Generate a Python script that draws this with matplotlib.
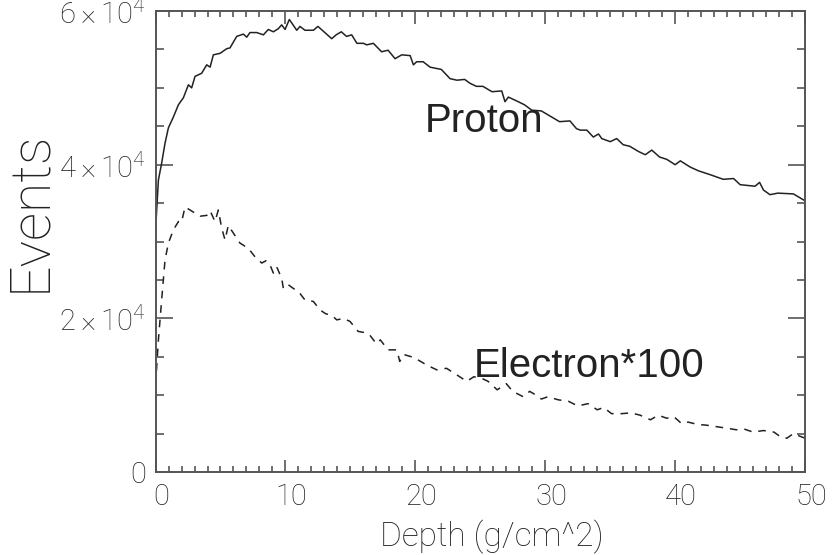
import numpy as np
import matplotlib
matplotlib.use("Agg")
import matplotlib.pyplot as plt
import matplotlib.transforms as mtransforms
from matplotlib.ticker import MultipleLocator, FixedLocator, FuncFormatter

# proton depth profile
proton_depth = [0.0, 0.22, 0.47, 0.73, 0.99, 1.37, 1.76, 2.14, 2.53, 2.78, 3.04, 3.55, 3.94,
                4.2, 4.45, 4.97, 5.48, 5.73, 6.25, 6.76, 7.02, 7.27, 7.79, 8.3, 8.68, 9.07,
                9.45, 9.71, 9.97, 10.3, 10.87, 11.12, 11.5, 12.15, 12.5, 12.9, 13.56, 13.9,
                14.3, 14.7, 15.1, 15.5, 16.0, 16.26, 16.77, 17.4, 17.9, 18.44, 18.95, 19.6,
                19.85, 20.1, 20.6, 21.13, 22.0, 22.67, 23.2, 23.8, 24.2, 24.7, 25.2, 25.9,
                26.65, 26.9, 27.16, 27.8, 28.4, 28.96, 29.7, 30.4, 31.1, 31.9, 32.4, 32.7,
                33.2, 33.7, 34.1, 34.35, 35.0, 35.5, 36.0, 36.5, 37.2, 37.7, 38.2, 38.8,
                39.35, 40.0, 40.4, 41.15, 41.8, 42.7, 43.2, 43.7, 44.5, 45.0, 46.15, 46.5,
                46.8, 47.3, 47.9, 49.1, 50.0]
proton_events = [31500, 38000, 40200, 42800, 44800, 46200, 47800, 48700, 50400, 50000, 51500,
                 51900, 53000, 52700, 54300, 54500, 55100, 55200, 56700, 57000, 56600, 57200,
                 57200, 56900, 57600, 57300, 57700, 58200, 57600, 58900, 57500, 58000, 57500,
                 57500, 58000, 57400, 56400, 56900, 57300, 56700, 56900, 55800, 55800, 55600,
                 55800, 54700, 54900, 53800, 54300, 54200, 53000, 53400, 53400, 52700, 52400,
                 51200, 51000, 51100, 50600, 50200, 50200, 49500, 49600, 48200, 48800, 48300,
                 47800, 47100, 47000, 46300, 45600, 45700, 44700, 44500, 44500, 43600, 44000,
                 43400, 43000, 43400, 42600, 42400, 41700, 41300, 41900, 41000, 40700, 40000,
                 40500, 39700, 39200, 38700, 38400, 38100, 38200, 37400, 37200, 37700, 36700,
                 36100, 36300, 36200, 35300]

# electron depth profile (scaled by 100)
electron_depth = [0.0, 0.22, 0.47, 0.73, 0.99, 1.37, 1.76, 2.0, 2.27, 2.66, 3.04, 3.43, 3.94,
                  4.2, 4.58, 4.83, 5.1, 5.35, 5.6, 5.99, 6.5, 7.15, 7.66, 8.18, 8.5, 8.8,
                  9.07, 9.33, 9.71, 9.84, 10.2, 10.6, 11.0, 11.5, 12.15, 12.66, 13.1, 13.56,
                  13.95, 14.46, 14.97, 15.6, 16.26, 16.5, 17.0, 17.3, 17.9, 18.57, 18.8, 19.1,
                  19.7, 20.2, 20.9, 21.65, 22.4, 23.05, 23.96, 24.5, 25.1, 25.6, 26.3, 27.0,
                  27.5, 28.3, 28.8, 29.3, 29.7, 30.2, 31.0, 31.8, 32.5, 33.3, 34.0, 34.5,
                  35.1, 35.9, 36.6, 37.3, 38.1, 38.7, 39.35, 39.9, 40.5, 41.0, 41.7, 42.4,
                  43.2, 44.0, 44.7, 45.3, 46.0, 46.8, 47.6, 48.1, 48.6, 49.1, 49.7, 50.0]
electron_events = [11300, 17200, 22400, 27600, 29800, 31500, 32600, 32500, 34500, 34100, 33700,
                   33300, 33400, 34000, 32600, 34100, 31700, 30200, 32100, 31100, 29800, 29100,
                   28000, 27200, 27500, 27000, 25900, 26700, 25200, 23900, 24400, 23900, 23500,
                   22400, 22200, 21100, 20600, 20400, 19800, 20000, 19600, 18300, 18100, 17800,
                   16700, 17200, 15900, 15900, 14400, 15300, 15000, 14600, 13900, 13300, 13500,
                   12800, 11800, 12400, 12200, 11800, 10700, 11500, 10500, 9800, 10500, 10000,
                   9500, 9800, 9400, 9200, 8600, 8900, 8100, 8400, 7600, 7600, 7700, 7400, 6800,
                   7400, 7000, 7200, 6300, 6500, 6200, 6100, 5900, 5700, 5500, 5600, 5200, 5400,
                   5200, 4600, 4400, 5000, 4600, 4400]

thin = ["Roboto", "DejaVu Sans"]
ink = "#222222"
plt.rcParams["mathtext.fontset"] = "custom"
plt.rcParams["mathtext.rm"] = "Roboto:light"
plt.rcParams["mathtext.it"] = "Roboto:light"

fig = plt.figure(figsize=(8.34, 5.55), dpi=100)
ax = fig.add_axes([0.1865, 0.1495, 0.7788, 0.8306])

ax.plot(proton_depth, proton_events, color="#222222", lw=1.1)
ax.plot(electron_depth, electron_events, color="#222222", lw=1.1, linestyle=(0, (5, 4.5)))

ax.set_xlim(0, 50)
ax.set_ylim(0, 60000)

for s in ax.spines.values():
    s.set_color("#555555")
    s.set_linewidth(1.4)

ax.xaxis.set_major_locator(MultipleLocator(10))
ax.xaxis.set_minor_locator(MultipleLocator(1))
ax.yaxis.set_major_locator(FixedLocator([0, 20000, 40000, 60000]))
ax.yaxis.set_minor_locator(MultipleLocator(5000))

ax.tick_params(which="both", direction="in", top=True, right=True, color="#555555",
               width=1.2, labelcolor=ink)
ax.tick_params(axis="x", which="major", length=9, pad=8)
ax.tick_params(axis="x", which="minor", length=4)
ax.tick_params(axis="y", which="major", length=12, pad=7)
ax.tick_params(axis="y", which="minor", length=6)


def ylab(v, pos):
    if v == 0:
        return "0"
    return r"$%d\times10^{4}$" % round(v / 10000)


ax.yaxis.set_major_formatter(FuncFormatter(ylab))
ax.xaxis.set_major_formatter(FuncFormatter(lambda v, p: "%d" % v))

for lab in ax.get_xticklabels():
    lab.set_fontfamily(thin)
    lab.set_fontweight("light")
    lab.set_fontsize(21)
    lab.set_transform(lab.get_transform() + mtransforms.ScaledTranslation(6 / 100, 0, fig.dpi_scale_trans))
for lab in ax.get_yticklabels():
    lab.set_fontfamily(thin)
    lab.set_fontweight("light")
    lab.set_fontsize(21)

ax.set_xlabel("Depth (g/cm^2)", family=thin, weight="light", fontsize=24, color=ink)
ax.xaxis.set_label_coords(0.517, -0.103)
ax.set_ylabel("Events", family=thin, weight="light", fontsize=40, color=ink)
ax.yaxis.set_label_coords(-0.153, 0.566)

ax.text(20.75, 44300, "Proton", family="Liberation Sans", fontsize=29, color="#222222")
ax.text(24.5, 12400, "Electron*100", family="Liberation Sans", fontsize=29, color="#222222")

fig.savefig("out.png", dpi=100, facecolor="white")
